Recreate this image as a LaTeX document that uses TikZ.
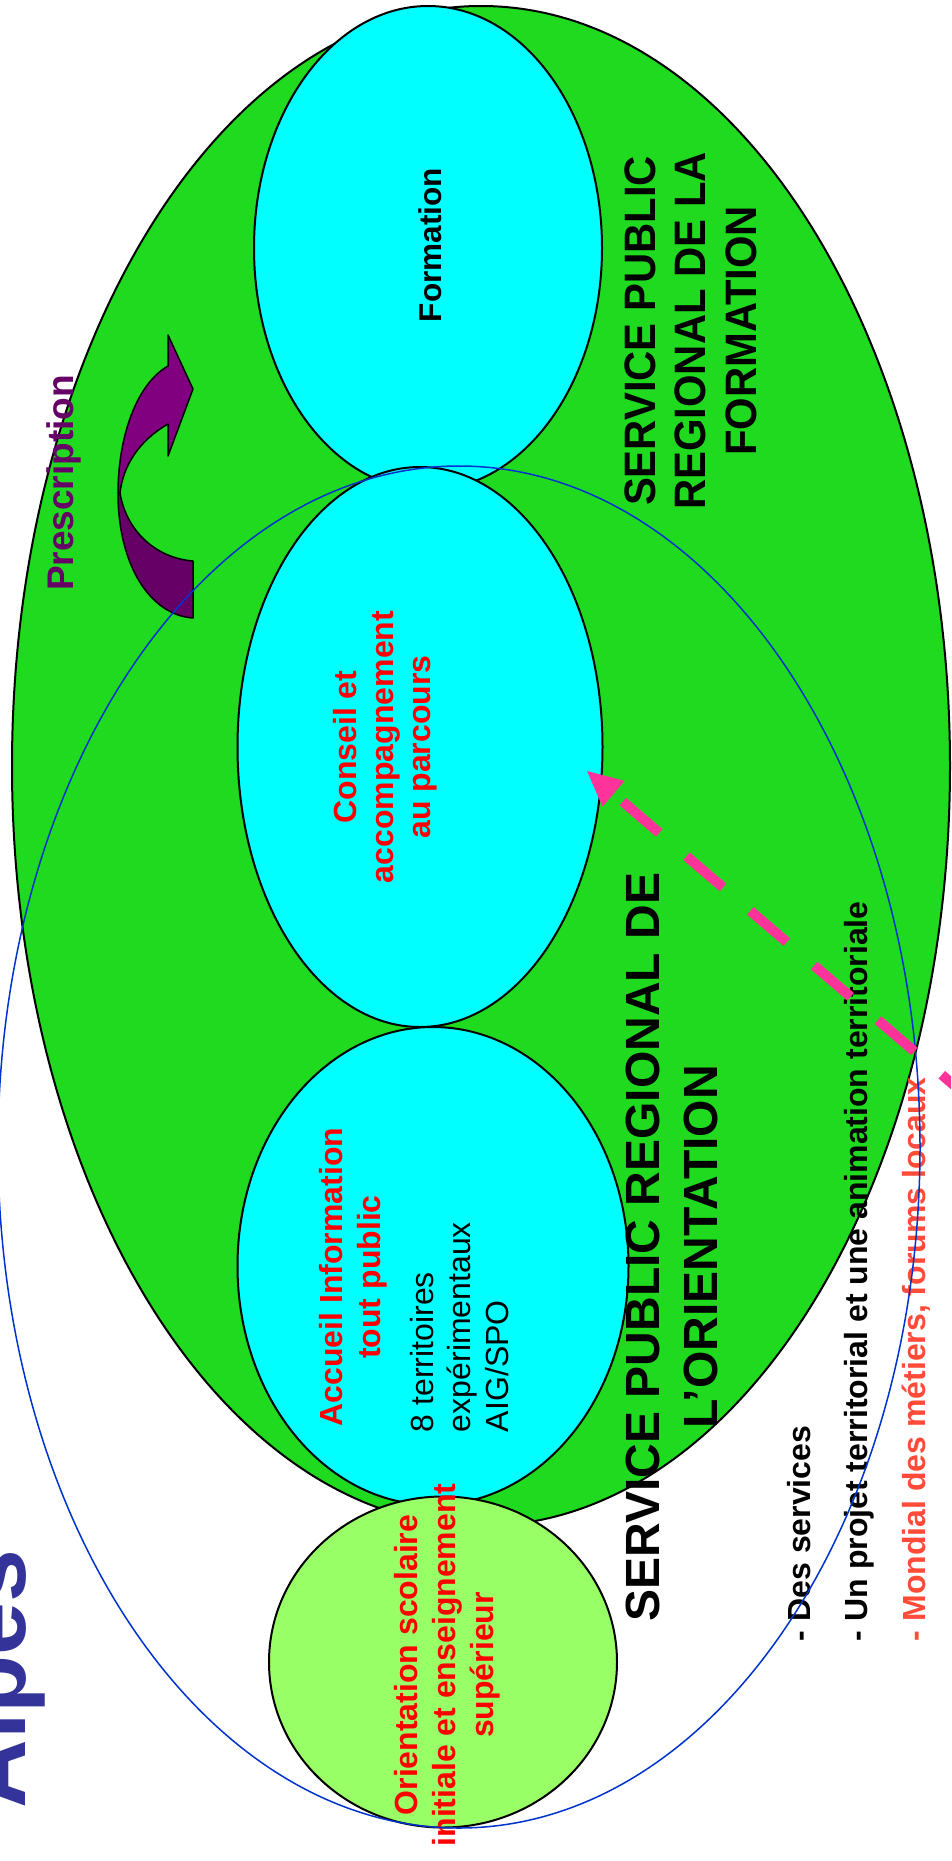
\documentclass[tikz,border=0pt]{standalone}
\usepackage{fontspec}
\setmainfont{Liberation Sans}
\usetikzlibrary{calc,shapes.geometric}
\definecolor{bggreen}{RGB}{32,218,32}
\definecolor{cyanfill}{RGB}{0,255,255}
\definecolor{lightgreen}{RGB}{153,255,102}
\definecolor{blueline}{RGB}{0,51,204}
\definecolor{alpesblue}{RGB}{51,51,153}
\definecolor{purplelight}{RGB}{128,0,128}
\definecolor{purpledark}{RGB}{102,0,102}
\definecolor{pinkarrow}{RGB}{255,51,153}
\definecolor{mondialred}{RGB}{255,75,55}
\definecolor{pureRed}{RGB}{255,0,0}
\begin{document}
\begin{tikzpicture}[x=1pt,y=-1pt,
  oval/.style={ellipse, draw=black, line width=2pt, inner sep=0pt, outer sep=0pt},
  vtext/.style={rotate=90, inner sep=0pt, outer sep=0pt, anchor=base},
  vleft/.style={rotate=90, inner sep=0pt, outer sep=0pt, anchor=base west},
  bold32/.style={font=\fontsize{32}{38}\selectfont\bfseries},
  reg32/.style={font=\fontsize{32}{38}\selectfont},
  title44/.style={font=\fontsize{44}{50}\selectfont\bfseries},
  title48/.style={font=\fontsize{48}{56}\selectfont\bfseries},
  arrowband/.style={draw=black, line width=1.5pt, line join=round}
]
\useasboundingbox (0,0) rectangle (951,1861);
\clip (0,0) rectangle (951,1861);

% shapes
\node[oval, fill=bggreen, minimum width=938pt, minimum height=1520pt] (sprf) at (481,766) {};
\node[oval, fill=cyanfill, minimum width=348pt, minimum height=484pt] (formation) at (428,248) {};
\node[oval, fill=cyanfill, minimum width=365pt, minimum height=560pt] (conseil) at (420,747) {};
\node[oval, fill=cyanfill, minimum width=391pt, minimum height=478pt] (accueil) at (433,1266) {};
\node[oval, fill=lightgreen, minimum width=348pt, minimum height=331pt] (scolaire) at (443,1662) {};

% prescription curved arrow
\path[arrowband, fill=purpledark] (118,493) .. controls (118,565) and (150,615) .. (193,618)
  -- (193,561) .. controls (155,558) and (126,530) .. (120,493) -- cycle;
\path[arrowband, fill=purplelight] (120,493) .. controls (123,465) and (140,440) .. (168,424)
  -- (168,456) -- (193,389) -- (168,335) -- (168,366)
  .. controls (135,385) and (118,440) .. (118,493) -- cycle;

% texts
\node[vtext, font=\fontsize{95}{110}\selectfont\bfseries, text=alpesblue] (alpes) at (25,1679) {Alpes};
\node[vtext, font=\fontsize{37}{44}\selectfont\bfseries, text=purpledark] (prescription) at (73,483) {Prescription};

\node[vtext, font=\fontsize{31.5}{38}\selectfont\bfseries] (tformation) at (441,245) {Formation};

\node[vtext, title44] (sprf1) at (655,331) {\scalebox{0.95}[1]{SERVICE PUBLIC}};
\node[vtext, title44] (sprf2) at (705,331) {\scalebox{0.95}[1]{REGIONAL DE LA}};
\node[vtext, title44] (sprf3) at (756,331) {\scalebox{0.95}[1]{FORMATION}};

\node[vtext, bold32, text=pureRed] (cons1) at (356,747) {Conseil et};
\node[vtext, bold32, text=pureRed] (cons2) at (393,747) {accompagnement};
\node[vtext, bold32, text=pureRed] (cons3) at (430,747) {au parcours};

\node[vtext, bold32, text=pureRed] (acc1) at (342,1277) {Accueil Information};
\node[vtext, bold32, text=pureRed] (acc2) at (380,1277) {tout public};
\node[vleft, reg32] (terr1) at (433,1432) {8 territoires};
\node[vleft, reg32] (terr2) at (470,1432) {expérimentaux};
\node[vleft, reg32] (terr3) at (508,1432) {AIG/SPO};

\node[vtext, title48] (spro1) at (659,1247) {SERVICE PUBLIC REGIONAL DE};
\node[vtext, title48] (spro2) at (717,1247) {L’ORIENTATION};

\node[vtext, bold32, text=pureRed] (scol1) at (417,1665) {Orientation scolaire};
\node[vtext, bold32, text=pureRed] (scol2) at (455,1665) {initiale et enseignement};
\node[vtext, bold32, text=pureRed] (scol3) at (493,1665) {supérieur};

\node[vleft, bold32] (list1) at (810,1641) {- Des services};
\node[vleft, bold32] (list2) at (867,1641) {- Un projet territorial et une animation territoriale};
\node[vleft, bold32, text=mondialred] (list3) at (925,1641) {- Mondial des métiers, forums locaux};

% blue outline of the orientation public service
\node[ellipse, draw=blueline, line width=1.5pt, inner sep=0pt, outer sep=0pt, minimum width=922pt, minimum height=1362pt] (spro) at (459,1147) {};

% pink dashed arrow
\coordinate (ptip) at (587,771);
\coordinate (ptail) at (978.2,1106);
\coordinate (pbase) at ($(ptip)!35pt!(ptail)$);
\draw[pinkarrow, line width=10pt, dash pattern=on 48pt off 36pt] (ptail) -- (pbase);
\fill[pinkarrow] (ptip) -- ($(pbase)!17pt!90:(ptail)$) -- ($(pbase)!17pt!-90:(ptail)$) -- cycle;
\end{tikzpicture}
\end{document}
